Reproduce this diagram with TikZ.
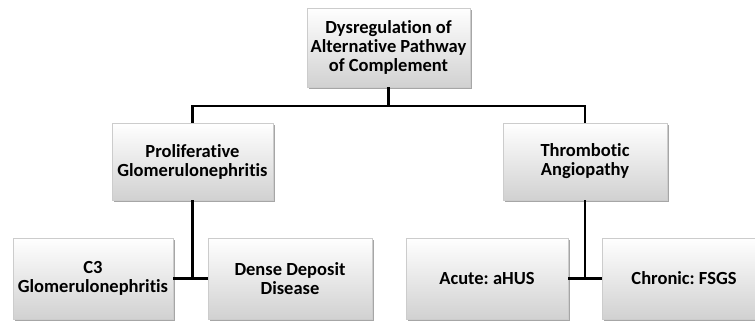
\documentclass[tikz,border=0pt]{standalone}
\usepackage{fontspec}
\setmainfont{Carlito}[Ligatures=NoCommon]
\frenchspacing
\usetikzlibrary{shadows}
\tikzset{
  box/.style={rectangle, top color=white, bottom color=black!18,
    draw=black!20, line width=0.3pt, align=center,
    font=\fontsize{18.5}{19}\selectfont\bfseries,
    drop shadow={shadow xshift=1.5pt, shadow yshift=-1.5pt, opacity=0.35, fill=black},
    minimum width=161pt, minimum height=78pt, inner sep=2pt},
  link/.style={line width=2.4pt}
}
\begin{document}
\begin{tikzpicture}[x=1pt, y=-1pt]
      \useasboundingbox (0,0) rectangle (755,325);
      \clip (0,0) rectangle (755,325);
      \node[box, minimum width=163pt, minimum height=79pt] (dys) at (388.5,47.5) {Dysregulation of\\Alternative Pathway\\of Complement};
      \node[box, minimum height=77pt] (prolif) at (192.5,161.5) {Proliferative\\Glomerulonephritis};
      \node[box, minimum width=164pt, minimum height=77pt] (thromb) at (585,161.5) {Thrombotic\\Angiopathy};
      \node[box, minimum width=160pt, minimum height=81pt] (c3) at (93,278.5) {C3\\Glomerulonephritis};
      \node[box, minimum width=164pt, minimum height=81pt] (dense) at (290,278.5) {Dense Deposit\\Disease};
      \node[box, minimum width=162pt, minimum height=81pt] (acute) at (487,278.5) {Acute: aHUS};
      \node[box, minimum width=164pt, minimum height=81pt] (chronic) at (684,278.5) {Chronic: FSGS};
      \coordinate (split) at (388.5,106);
      \begin{scope}[link]
        \draw (dys.south) -- (split);
        \draw (prolif.north) |- (split) -| (thromb.north);
        \draw (c3.east) -- (dense.west);
        \draw (prolif.south) -- (prolif.south |- c3.east);
        \draw (acute.east) -- (chronic.west);
        \draw (thromb.south) -- (thromb.south |- acute.east);
      \end{scope}
    \end{tikzpicture}
\end{document}
